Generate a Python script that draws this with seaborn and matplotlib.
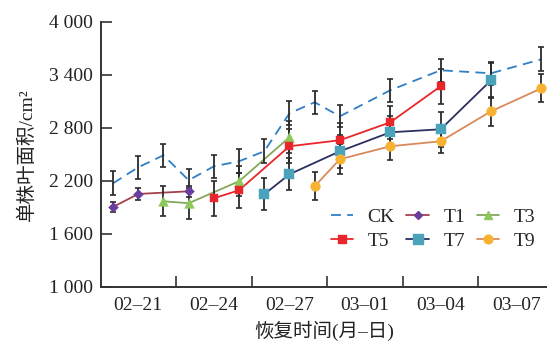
import matplotlib
matplotlib.use("Agg")
import matplotlib.pyplot as plt
from matplotlib.lines import Line2D
from matplotlib.ticker import FixedLocator
import seaborn as sns
import pandas as pd

# ---------------- data ----------------
year = "2024"
start_date = "02-20"
tick_dates = ["02-21", "02-24", "02-27", "03-01", "03-04", "03-07"]
tick_labels = ["02\u201321", "02\u201324", "02\u201327", "03\u201301", "03\u201304", "03\u201307"]

ck_dates = ["02-20", "02-21", "02-22", "02-23", "02-24", "02-25", "02-26", "02-27",
            "02-28", "02-29", "03-02", "03-04", "03-06", "03-08"]
ck_vals = [2174, 2355, 2491, 2208, 2366, 2423, 2536, 2966, 3091, 2932, 3227, 3453, 3419, 3578]
ck_err = [135, 130, 130, 125, 130, 135, 135, 135, 130, 125, 130, 130, 130, 135]

t1_dates = ["02-20", "02-21", "02-23"]
t1_vals = [1906, 2053, 2083]
t1_err = [60, 65, 60]

t3_dates = ["02-22", "02-23", "02-25", "02-27"]
t3_vals = [1970, 1948, 2197, 2695]
t3_err = [170, 175, 170, 180]

t5_dates = ["02-24", "02-25", "02-27", "02-29", "03-02", "03-04"]
t5_vals = [2004, 2095, 2593, 2661, 2864, 3272]
t5_err = [200, 200, 190, 190, 190, 200]

t7_dates = ["02-26", "02-27", "02-29", "03-02", "03-04", "03-06"]
t7_vals = [2049, 2276, 2536, 2751, 2785, 3340]
t7_err = [180, 180, 190, 190, 200, 200]

t9_dates = ["02-28", "02-29", "03-02", "03-04", "03-06", "03-08"]
t9_vals = [2140, 2446, 2593, 2649, 2989, 3249]
t9_err = [160, 170, 160, 130, 165, 160]

y_ticks = [1000, 1600, 2200, 2800, 3400, 4000]
y_tick_labels = ["1 000", "1 600", "2 200", "2 800", "3 400", "4 000"]

# ---------------- style ----------------
sns.set_style("ticks")
plt.rcParams["font.family"] = ["Liberation Serif", "Noto Sans CJK SC", "DejaVu Sans"]
plt.rcParams["axes.unicode_minus"] = False

def to_day(dates):
    t0 = pd.Timestamp(f"{year}-{start_date}")
    return [(pd.Timestamp(f"{year}-{d}") - t0).days for d in dates]

series = [
    # name, dates, vals, err, line color, marker, marker color, ms, linestyle
    ("CK", ck_dates, ck_vals, ck_err, "#2f7fc4", None, None, 0, (0, (5.5, 3.5))),
    ("T1", t1_dates, t1_vals, t1_err, "#a3414d", "D", "#6a3d9e", 5.0, "-"),
    ("T3", t3_dates, t3_vals, t3_err, "#82a85a", "^", "#8cc95a", 7.0, "-"),
    ("T5", t5_dates, t5_vals, t5_err, "#e8262b", "s", "#e8262b", 6.0, "-"),
    ("T7", t7_dates, t7_vals, t7_err, "#2b2f62", "s", "#4aa3bb", 7.5, "-"),
    ("T9", t9_dates, t9_vals, t9_err, "#d98a5c", "o", "#f7b232", 7.0, "-"),
]

fig = plt.figure(figsize=(5.47, 3.47), dpi=100)
ax = fig.add_axes([0.1846, 0.173, 0.8154, 0.7637])

handles = {}
for name, dates, vals, err, lc, mk, mc, ms, ls in series:
    x = to_day(dates)
    df = pd.DataFrame({"x": x, "y": vals})
    sns.lineplot(data=df, x="x", y="y", ax=ax, color=lc, linestyle=ls,
                 linewidth=1.3, zorder=2, legend=False, errorbar=None)
    ax.errorbar(x, vals, yerr=err, fmt="none", ecolor="#2a2a2a",
                elinewidth=1.3, capsize=2.2, capthick=1.2, zorder=3)
    if mk is not None:
        sns.scatterplot(data=df, x="x", y="y", ax=ax, marker=mk, color=mc,
                        s=ms ** 2, edgecolor=mc, linewidth=0.3, zorder=4, legend=False)
    handles[name] = Line2D([0], [0], color=lc, linestyle=ls, linewidth=1.3,
                           marker=mk if mk else None, markersize=ms * 0.9,
                           markerfacecolor=mc, markeredgecolor=mc, label=name)

# axes
ax.set_xlim(-0.48, 17.22)
ax.set_ylim(1000, 4000)
ax.xaxis.set_major_locator(FixedLocator(to_day(tick_dates)))
ax.set_xticklabels(tick_labels)
ax.xaxis.set_minor_locator(FixedLocator([2.5, 5.5, 8.5, 11.5, 14.5]))
ax.tick_params(axis="x", which="major", length=0, pad=7, labelsize=14, colors="#222222")
ax.tick_params(axis="x", which="minor", length=8, width=1.2, direction="in", color="#333333")
ax.set_yticks(y_ticks)
ax.set_yticklabels(y_tick_labels)
ax.tick_params(axis="y", which="major", length=8, width=1.2, direction="in", pad=6,
               labelsize=14, color="#333333", labelcolor="#222222")

for s in ["top", "right"]:
    ax.spines[s].set_visible(False)
for s in ["left", "bottom"]:
    ax.spines[s].set_linewidth(1.4)
    ax.spines[s].set_color("#333333")

ax.set_xlabel("恢复时间(月\u2013日)", fontsize=14, labelpad=5, color="#222222")
ax.set_ylabel("单株叶面积/cm²", fontsize=14, labelpad=9, color="#222222")

order = ["CK", "T5", "T1", "T7", "T3", "T9"]
leg = ax.legend(handles=[handles[k] for k in order], ncol=3, loc="lower right",
                bbox_to_anchor=(1.0, 0.095),
                frameon=False, fontsize=14, handlelength=1.15, handletextpad=0.75,
                columnspacing=0.6, labelspacing=0.36, borderaxespad=0.2)

fig.savefig("out.png", dpi=100)
